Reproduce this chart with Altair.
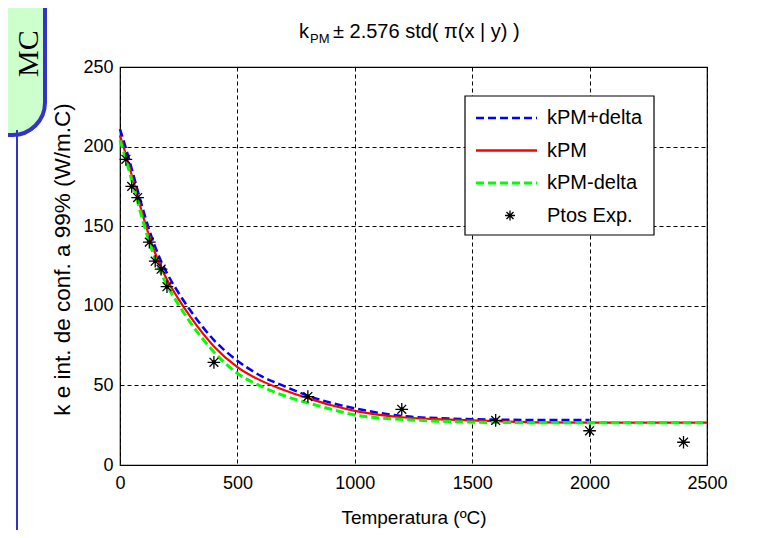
import altair as alt
import pandas as pd

# ---------------- data ----------------
temp_curve = [0, 25, 50, 75, 100, 125, 150, 175, 200, 250, 300, 400, 500, 600,
              700, 800, 900, 1000, 1200, 1400, 1600, 1800, 2000, 2250, 2500]
k_pm = [207, 195, 182, 168.5, 155.5, 143.5, 133, 124, 116.5, 104, 93, 74.5, 61.5, 53,
        47, 42, 37.5, 34, 30, 28.5, 27.5, 26.8, 26.6, 26.6, 26.6]
k_minus = [204, 192, 179, 165.5, 152, 140, 129.5, 120.5, 113, 100.5, 89.5, 71,
           57.6, 49.5, 43.5, 39, 35, 31.4, 28.7, 27.3, 26.7, 26.6, 26.6, 26.6, 26.6]
temp_plus = [0, 25, 50, 75, 100, 125, 150, 175, 200, 250, 300, 400, 500, 600,
             700, 800, 900, 1000, 1200, 1400, 1600, 1800, 2000]
k_plus = [211, 199, 186, 172.5, 159.5, 147.5, 137, 128, 120.5, 108, 97, 78.5,
          65.5, 56, 49.5, 43.5, 39, 35.6, 30.8, 29.2, 28.5, 28.3, 28.3]
temp_exp = [25, 50, 75, 125, 150, 175, 200, 400, 800, 1200, 1600, 2000, 2400]
k_exp = [192, 175, 168, 140, 128, 123, 112, 64.5, 43, 35, 28, 21.5, 14.3]

legend_labels = ["kPM+delta", "kPM", "kPM-delta", "Ptos Exp."]
x_ticks = [0, 500, 1000, 1500, 2000, 2500]
y_ticks = [0, 50, 100, 150, 200, 250]
title_main = "\u00b1 2.576 std( \u03c0(x | y) )"
x_title = "Temperatura (\u00baC)"
y_title = "k e int. de conf. a 99% (W/m.C)"

FONT = "Liberation Sans"
W, H = 587, 398
BLUE, RED, GREEN = "#0000ff", "#ff0000", "#00ff00"
STAR = "M0,-1L0,1M-1,0L1,0M-0.7,-0.7L0.7,0.7M-0.7,0.7L0.7,-0.7"

df_plus = pd.DataFrame({"t": temp_plus, "k": k_plus})
df_pm = pd.DataFrame({"t": temp_curve, "k": k_pm})
df_minus = pd.DataFrame({"t": temp_curve, "k": k_minus})
df_exp = pd.DataFrame({"t": temp_exp, "k": k_exp})

xscale = alt.Scale(domain=[0, 2500], nice=False)
yscale = alt.Scale(domain=[0, 250], nice=False)

x_enc = alt.X("t:Q", scale=xscale, axis=alt.Axis(
    values=x_ticks, format="d", title=x_title, grid=True, gridDash=[4, 3],
    gridColor="black", gridOpacity=1, gridWidth=1, ticks=False, domain=False,
    labelFont=FONT, labelFontSize=18, labelColor="black", labelPadding=9,
    labelFlush=False, titleFont=FONT, titleFontSize=19, titleFontWeight="normal",
    titleColor="black", titleX=W / 2, titleY=52, titleBaseline="middle",
    titleAlign="center"))
y_enc = alt.Y("k:Q", scale=yscale, axis=alt.Axis(
    values=y_ticks, format="d", title=y_title, grid=True, gridDash=[4, 3],
    gridColor="black", gridOpacity=1, gridWidth=1, ticks=False, domain=False,
    labelFont=FONT, labelFontSize=18, labelColor="black", labelPadding=7,
    labelFlush=False, titleFont=FONT, titleFontSize=22.5, titleFontWeight="normal",
    titleColor="black", titleX=-58, titleY=H / 2 - 7, titleBaseline="middle",
    titleAlign="center", titleAngle=270))

one = pd.DataFrame({"a": [0]})

# slide decoration
deco_box = alt.Chart(one).mark_rect(
    fill="#ccffcc", stroke="#3333cc", strokeWidth=4, cornerRadiusBottomRight=38
).encode(x=alt.value(-140), x2=alt.value(-75), y=alt.value(-80), y2=alt.value(68))
deco_text = alt.Chart(one).mark_text(
    text="MC", font="Liberation Serif", fontSize=30, angle=270, align="left",
    baseline="middle", color="black"
).encode(x=alt.value(-91), y=alt.value(10))
deco_line = alt.Chart(one).mark_rule(color="#3333cc", strokeWidth=2).encode(
    x=alt.value(-103), y=alt.value(63), y2=alt.value(480))

line_plus = alt.Chart(df_plus).mark_line(
    color=BLUE, strokeWidth=2.5, strokeDash=[8, 4], interpolate="monotone"
).encode(x=x_enc, y=y_enc)
line_pm = alt.Chart(df_pm).mark_line(
    color=RED, strokeWidth=2.2, interpolate="monotone"
).encode(x=alt.X("t:Q", scale=xscale), y=alt.Y("k:Q", scale=yscale))
line_minus = alt.Chart(df_minus).mark_line(
    color=GREEN, strokeWidth=3, strokeDash=[8, 4], interpolate="monotone"
).encode(x=alt.X("t:Q", scale=xscale), y=alt.Y("k:Q", scale=yscale))
pts = alt.Chart(df_exp).mark_point(
    shape=STAR, size=160, filled=False, stroke="black", strokeWidth=1.3, opacity=1
).encode(x=alt.X("t:Q", scale=xscale), y=alt.Y("k:Q", scale=yscale))
pts_dot = alt.Chart(df_exp).mark_point(
    shape="circle", size=16, filled=True, color="black", opacity=1
).encode(x=alt.X("t:Q", scale=xscale), y=alt.Y("k:Q", scale=yscale))

# legend (drawn manually, MATLAB style)
LX0, LX1, LY0, LY1 = 345, 534, 29, 168
leg_box = alt.Chart(one).mark_rect(
    fill="white", stroke="black", strokeWidth=1.2
).encode(x=alt.value(LX0), x2=alt.value(LX1), y=alt.value(LY0), y2=alt.value(LY1))
leg_layers = [leg_box]
styles = [(BLUE, [8, 4], 2.5), (RED, None, 2.5), (GREEN, [8, 4], 3)]
for i, lab in enumerate(legend_labels):
    ry = 51 + i * 32.5
    if i < 3:
        col, dash, sw = styles[i]
        kw = dict(color=col, strokeWidth=sw)
        if dash:
            kw["strokeDash"] = dash
        leg_layers.append(alt.Chart(one).mark_rule(**kw).encode(
            x=alt.value(356), x2=alt.value(417), y=alt.value(ry)))
    else:
        leg_layers.append(alt.Chart(one).mark_point(
            shape=STAR, size=100, filled=False, stroke="black", strokeWidth=1.3, opacity=1
        ).encode(x=alt.value(390), y=alt.value(ry)))
        leg_layers.append(alt.Chart(one).mark_point(
            shape="circle", size=12, filled=True, color="black", opacity=1
        ).encode(x=alt.value(390), y=alt.value(ry)))
    leg_layers.append(alt.Chart(one).mark_text(
        text=lab, font=FONT, fontSize=20, align="left", baseline="middle", color="black"
    ).encode(x=alt.value(427), y=alt.value(ry)))

# title with subscript
TY = -35
t_k = alt.Chart(one).mark_text(text="k", font=FONT, fontSize=20, align="left",
                                baseline="middle", color="black").encode(
    x=alt.value(179), y=alt.value(TY))
t_sub = alt.Chart(one).mark_text(text="PM", font=FONT, fontSize=13, align="left",
                                  baseline="middle", color="black").encode(
    x=alt.value(190), y=alt.value(TY + 7))
t_main = alt.Chart(one).mark_text(text=title_main, font=FONT, fontSize=20, align="left",
                                   baseline="middle", color="black").encode(
    x=alt.value(213), y=alt.value(TY))

chart = alt.layer(
    deco_box, deco_text, deco_line,
    line_plus, line_pm, line_minus, pts, pts_dot,
    *leg_layers, t_k, t_sub, t_main
).properties(
    width=W, height=H,
    autosize=alt.AutoSizeParams(type="none"),
    padding={"left": 112, "top": 59, "right": 60, "bottom": 65},
    background="white",
).configure_view(stroke="black", strokeWidth=1.2)

chart.save("out.html", embed_options={"renderer": "svg", "actions": False})
